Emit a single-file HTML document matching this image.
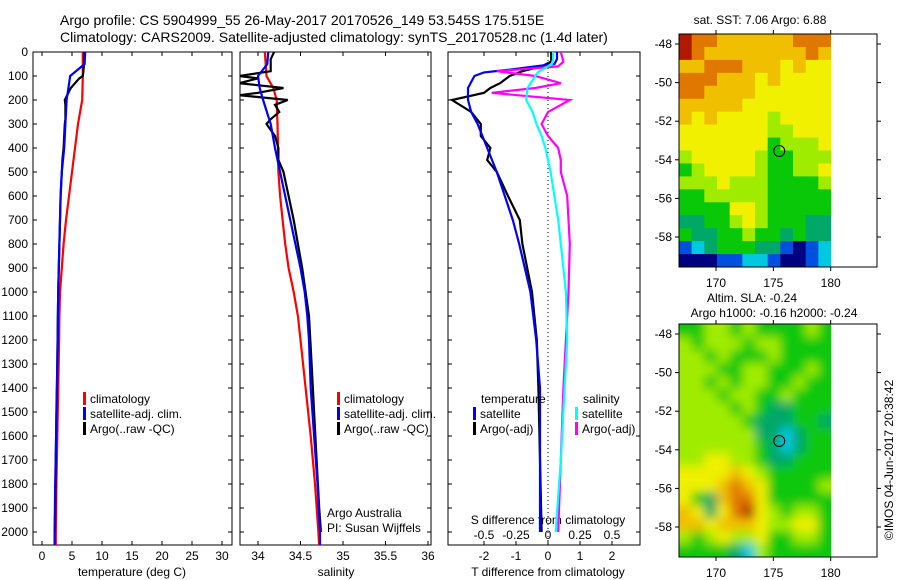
<!DOCTYPE html>
<html><head><meta charset="utf-8"><style>
html,body{margin:0;padding:0;background:#fff;}
svg{display:block;font-family:"Liberation Sans",sans-serif;}
</style></head><body>
<svg id="fig" width="900" height="580" viewBox="0 0 900 580">
<defs>
<clipPath id="c1"><rect x="33" y="52" width="199" height="493"/></clipPath>
<clipPath id="c2"><rect x="240" y="52" width="191" height="493"/></clipPath>
<clipPath id="c3"><rect x="448" y="52" width="192" height="493"/></clipPath>
<clipPath id="cm1"><rect x="679" y="34" width="152" height="233"/></clipPath>
<clipPath id="cm2"><rect x="679" y="324" width="152" height="233"/></clipPath>
<filter id="blur" x="-20%" y="-20%" width="140%" height="140%"><feGaussianBlur stdDeviation="5"/></filter>
</defs>
<text x="60" y="25" font-size="14">Argo profile: CS 5904999_55 26-May-2017 20170526_149 53.545S 175.515E</text>
<text x="60" y="42" font-size="14">Climatology: CARS2009. Satellite-adjusted climatology: synTS_20170528.nc (1.4d later)</text>
<g id="g"></g>
</svg>
<script>
// depth levels (m)
const depthClim=[0,50,100,150,200,300,400,500,600,700,800,900,1000,1100,1200,1400,1600,1800,2000,2055];
const tempClim=[6.8,6.8,6.8,6.75,6.7,6.0,5.5,5.0,4.5,4.0,3.6,3.3,3.0,2.9,2.85,2.7,2.55,2.4,2.3,2.3];
const tempSat=[7.2,7.1,4.7,4.4,4.1,3.9,3.7,3.3,3.1,3.0,2.9,2.8,2.7,2.65,2.6,2.5,2.35,2.2,2.1,2.1];
const salClim=[34.08,34.09,34.1,34.18,34.22,34.23,34.235,34.24,34.26,34.29,34.32,34.36,34.42,34.47,34.5,34.56,34.62,34.67,34.71,34.72];
const salSat=[34.12,34.11,34.0,34.02,34.06,34.15,34.2,34.26,34.32,34.38,34.44,34.5,34.55,34.58,34.6,34.62,34.66,34.7,34.73,34.73];
const depthArgo=[0,30,50,80,100,110,130,150,170,180,200,220,250,280,300,350,400,450,500,600,700,800,900,1000,1100,1300,1500,1700,1900,2000];
const tempArgo=[7.0,7.0,7.0,6.9,6.8,6.2,5.5,4.8,4.4,4.2,3.8,3.9,3.9,3.9,3.8,3.7,3.6,3.4,3.3,3.1,3.0,2.9,2.8,2.7,2.65,2.55,2.4,2.3,2.2,2.15];
const salArgo=[34.19,34.15,34.15,34.15,33.78,34.0,33.78,34.3,34.0,33.78,34.35,34.2,34.25,34.15,34.1,34.2,34.24,34.24,34.3,34.36,34.42,34.47,34.52,34.56,34.6,34.63,34.66,34.69,34.72,34.74];
const depthDiff=[0,30,50,75,85,100,150,200,250,300,350,400,450,500,600,700,800,1000,1200,1400,1700,2000];
const tDiffSat=[0.28,0.28,0.2,-1.3,-2.0,-2.3,-2.5,-2.5,-2.4,-2.2,-2.05,-1.9,-1.75,-1.6,-1.35,-1.1,-0.9,-0.55,-0.37,-0.25,-0.25,-0.25];
const sDiffSat=[0.04,0.04,0.03,-0.05,-0.08,-0.1,-0.16,-0.17,-0.12,-0.09,-0.05,-0.02,0.0,0.02,0.05,0.08,0.1,0.14,0.15,0.13,0.1,0.06];
const depthDiffArgo=[0,40,60,80,100,130,150,170,200,250,300,350,400,450,500,600,700,800,1000,1200,1400,1700,2000];
const tDiffArgo=[0.1,0.1,-0.2,-0.8,-1.2,-1.5,-1.8,-2.0,-3.0,-2.4,-2.1,-2.1,-1.8,-1.9,-1.6,-1.25,-0.88,-0.8,-0.5,-0.35,-0.3,-0.25,-0.2];
const sDiffArgo=[0.1,0.12,0.08,-0.4,-0.1,0.1,-0.1,-0.44,0.17,0.0,-0.05,0.0,0.08,0.1,0.1,0.15,0.16,0.17,0.16,0.14,0.12,0.1,0.08];
const depthTicks=[0,100,200,300,400,500,600,700,800,900,1000,1100,1200,1300,1400,1500,1600,1700,1800,1900,2000];
const tempTicks=[0,5,10,15,20,25,30];
const salTicks=[34,34.5,35,35.5,36];
const tdTicks=[-2,-1,0,1,2];
const sdTicks=[-0.5,-0.25,0,0.25,0.5];
const latTicks=[-48,-50,-52,-54,-56,-58];
const lonTicks=[170,175,180];
// SST grid (colour index 0-9), rows north->south
const sstGrid=[
[9,8,8,7,7,7,7,7,7,8,8,8],[9,8,7,7,7,7,7,7,7,7,8,7],[7,7,8,8,8,7,7,7,6,7,6,6],
[8,8,8,7,7,7,6,7,6,6,6,6],[8,8,7,7,7,7,6,6,6,6,6,6],[7,7,7,7,7,6,6,6,6,6,6,6],
[7,6,7,6,6,6,6,5,6,6,6,6],[6,6,6,6,6,6,6,5,5,6,6,6],[6,6,6,6,6,6,6,4,5,5,5,6],
[5,6,6,6,6,6,5,4,4,5,5,5],[4,5,6,6,6,6,5,4,4,5,5,6],[5,5,5,6,5,5,5,4,4,4,4,5],
[4,4,5,5,5,5,5,4,4,4,4,4],[4,4,4,4,6,6,5,4,4,4,4,4],[3,3,4,4,5,6,5,4,4,4,3,3],
[4,3,3,4,4,5,4,4,3,4,3,3],[1,2,3,4,4,4,3,3,1,0,1,2],[0,0,0,1,1,2,2,1,0,0,1,2]];
const slaGrid=[
[4,4,5,5,4,5,4,4,4,4,5,4],[5,4,5,5,5,4,5,5,4,4,4,4],[5,5,4,5,4,4,4,5,4,4,4,4],
[5,5,5,4,4,5,5,4,4,4,5,4],[5,5,4,5,4,5,5,4,4,5,4,4],[5,5,5,4,5,5,4,4,5,4,4,4],
[5,5,5,5,4,5,4,3,3,4,4,4],[5,5,5,5,5,4,3,3,3,4,4,3],[5,5,5,5,5,5,3,3,2,3,4,4],
[5,5,5,5,5,5,4,3,2,3,4,4],[5,5,6,6,5,5,4,3,3,4,4,4],[6,6,6,6,7,6,5,4,4,4,4,4],
[6,6,6,7,8,7,6,4,4,4,4,5],[6,4,3,7,8,8,6,4,4,4,4,4],[7,6,3,6,8,9,6,5,4,5,5,4],
[7,7,6,7,7,7,6,5,5,6,6,4],[5,4,5,6,5,5,6,4,4,5,5,4],[4,4,4,4,3,2,5,4,4,4,4,4]];
const floatLon=175.515, floatLat=-53.545;

const palette=['#000080','#0050e0','#00c8e0','#00a868','#08c808','#a0ec00','#f0f000','#f0c000','#e07800','#b01800'];
const NS='http://www.w3.org/2000/svg';
const G=document.getElementById('g');
function mk(tag,attrs,parent){const e=document.createElementNS(NS,tag);for(const k in attrs)e.setAttribute(k,attrs[k]);(parent||G).appendChild(e);return e;}
const yD=d=>52+d*0.24;
const xT=t=>42+t*6;
const xS=s=>258+(s-34)*85;
const xTD=t=>548+t*32;
const xSD=s=>548+s*128;
const yLat=l=>44+(-48-l)*19.3;
const xLon=l=>716+(l-170)*11.47;

function line(xs,ys,fx,color,clip,name,w){
  const pts=xs.map((v,i)=>fx(v).toFixed(1)+','+yD(ys[i]).toFixed(1)).join(' ');
  const p=mk('polyline',{points:pts,fill:'none',stroke:color,'stroke-width':w||2.2,'clip-path':'url(#'+clip+')'});
  
  
}
function text(x,y,s,opts,name){const t=mk('text',Object.assign({x:x,y:y,'font-size':12},opts||{}));t.textContent=s;
  
  return t;}

const panels=[[33,199,'temperature-panel'],[240,191,'salinity-panel'],[448,192,'difference-panel']];
panels.forEach(p=>{const r=mk('rect',{x:p[0],y:52,width:p[1],height:493,fill:'none',stroke:'#000','stroke-width':1});
  
  
  depthTicks.forEach(d=>{mk('line',{x1:p[0],x2:p[0]+4,y1:yD(d),y2:yD(d),stroke:'#000'});mk('line',{x1:p[0]+p[1]-4,x2:p[0]+p[1],y1:yD(d),y2:yD(d),stroke:'#000'});});
});
depthTicks.forEach(d=>text(28,yD(d)+4,String(d),{'text-anchor':'end'},'depth-tick-label'));
tempTicks.forEach(t=>{mk('line',{x1:xT(t),x2:xT(t),y1:545,y2:541,stroke:'#000'});mk('line',{x1:xT(t),x2:xT(t),y1:52,y2:56,stroke:'#000'});text(xT(t),560,String(t),{'text-anchor':'middle'},'temp-tick-label');});
salTicks.forEach(s=>{mk('line',{x1:xS(s),x2:xS(s),y1:545,y2:541,stroke:'#000'});mk('line',{x1:xS(s),x2:xS(s),y1:52,y2:56,stroke:'#000'});text(xS(s),560,String(s),{'text-anchor':'middle'},'sal-tick-label');});
tdTicks.forEach(s=>{mk('line',{x1:xTD(s),x2:xTD(s),y1:545,y2:541,stroke:'#000'});mk('line',{x1:xTD(s),x2:xTD(s),y1:52,y2:56,stroke:'#000'});text(xTD(s),560,String(s),{'text-anchor':'middle'},'tdiff-tick-label');});
sdTicks.forEach(s=>text(xSD(s),539,String(s),{'text-anchor':'middle'},'sdiff-tick-label'));
text(132,576,'temperature (deg C)',{'text-anchor':'middle'},'temp-axis-title');
text(336,576,'salinity',{'text-anchor':'middle'},'sal-axis-title');
text(548,576,'T difference from climatology',{'text-anchor':'middle'},'tdiff-axis-title');
text(548,524,'S difference from climatology',{'text-anchor':'middle'},'sdiff-axis-title');
mk('line',{x1:548,x2:548,y1:52,y2:545,stroke:'#000','stroke-dasharray':'1,3'});

line(tempClim,depthClim,xT,'#ff0000','c1','temp-climatology-line');
line(tempArgo,depthArgo,xT,'#000','c1','temp-argo-line');
line(tempSat,depthClim,xT,'#0000ff','c1','temp-satellite-line');
line(salClim,depthClim,xS,'#ff0000','c2','sal-climatology-line');
line(salArgo,depthArgo,xS,'#000','c2','sal-argo-line');
line(salSat,depthClim,xS,'#0000ff','c2','sal-satellite-line');
line(tDiffArgo,depthDiffArgo,xTD,'#000','c3','tdiff-argo-line');
line(tDiffSat,depthDiff,xTD,'#0000ff','c3','tdiff-satellite-line');
line(sDiffArgo,depthDiffArgo,xSD,'#ff00ff','c3','sdiff-argo-line');
line(sDiffSat,depthDiff,xSD,'#00ffff','c3','sdiff-satellite-line');

function leg(x,y,color,label,name){mk('rect',{x:x,y:y-11,width:3,height:13,fill:color});text(x+7,y,label,{},name);}
[[83,'climatology','#ff0000'],[83,'satellite-adj. clim.','#0000ff'],[83,'Argo(..raw -QC)','#000']].forEach((l,i)=>leg(l[0],403+i*15,l[2],l[1],'temp-legend-entry'));
[[337,'climatology','#ff0000'],[337,'satellite-adj. clim.','#0000ff'],[337,'Argo(..raw -QC)','#000']].forEach((l,i)=>leg(l[0],403+i*15,l[2],l[1],'sal-legend-entry'));
text(481,403,'temperature',{},'diff-legend-temperature-heading');
text(583,403,'salinity',{},'diff-legend-salinity-heading');
leg(473,418,'#0000ff','satellite','diff-legend-entry');
leg(473,433,'#000','Argo(-adj)','diff-legend-entry');
leg(575,418,'#00ffff','satellite','diff-legend-entry');
leg(575,433,'#ff00ff','Argo(-adj)','diff-legend-entry');
text(327,517,'Argo Australia',{},'credit-argo-australia');
text(327,532,'PI: Susan Wijffels',{},'credit-pi');

function map(grid,y0,clip,blur,name){
  const g=mk('g',{'clip-path':'url(#'+clip+')'});
  
  
  const inner=mk('g',blur?{filter:'url(#blur)'}:{},g);
  const rows=grid.length,cols=grid[0].length,cw=152/cols,ch=233/rows;
  const pad=blur?20:0;
  grid.forEach((row,r)=>row.forEach((v,c)=>{
    let x=679+c*cw,y=y0+r*ch,w=cw+0.6,h=ch+0.6;
    if(c===0){x-=pad;w+=pad;} if(c===cols-1){w+=pad;}
    if(r===0){y-=pad;h+=pad;} if(r===rows-1){h+=pad;}
    const cell=mk('rect',{x:x.toFixed(2),y:y.toFixed(2),width:w.toFixed(2),height:h.toFixed(2),fill:palette[v]},inner);
    
    
  }));
  const fr=mk('rect',{x:679,y:y0,width:198,height:233,fill:'none',stroke:'#000'});
  
  
  const dy=y0-34;
  latTicks.forEach(l=>{const y=yLat(l)+dy;mk('line',{x1:675,x2:679,y1:y,y2:y,stroke:'#000'});mk('line',{x1:877,x2:881,y1:y,y2:y,stroke:'#000'});text(672,y+4,String(l),{'text-anchor':'end'},'lat-tick-label');});
  lonTicks.forEach(l=>{const x=xLon(l);mk('line',{x1:x,x2:x,y1:y0,y2:y0-4,stroke:'#000'});mk('line',{x1:x,x2:x,y1:y0+233,y2:y0+237,stroke:'#000'});text(x,y0+253,String(l),{'text-anchor':'middle'},'lon-tick-label');});
  const c=mk('circle',{cx:xLon(floatLon),cy:yLat(floatLat)+dy,r:5.5,fill:'none',stroke:'#000','stroke-width':1});
  
  
}
map(sstGrid,34,'cm1',false,'sst-map');
map(slaGrid,324,'cm2',true,'sla-map');
text(760,24,'sat. SST: 7.06 Argo: 6.88',{'text-anchor':'middle'},'sst-map-title');
text(752,302,'Altim. SLA: -0.24',{'text-anchor':'middle'},'sla-map-title-1');
text(774,317,'Argo h1000: -0.16 h2000: -0.24',{'text-anchor':'middle'},'sla-map-title-2');
text(0,0,'\u00a9IMOS 04-Jun-2017 20:38:42',{'text-anchor':'middle',transform:'translate(893,460) rotate(-90)'},'imos-timestamp');
</script>
</body></html>
